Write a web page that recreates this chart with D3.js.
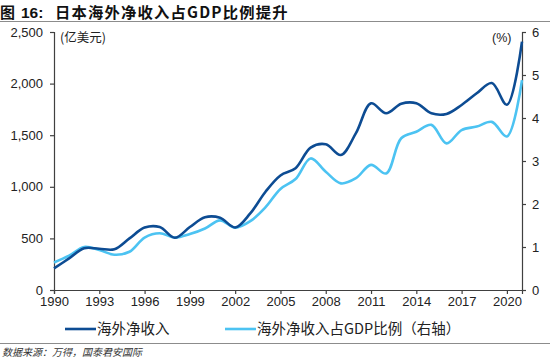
<!DOCTYPE html>
<html><head><meta charset="utf-8">
<script src="https://cdn.jsdelivr.net/npm/d3@7"></script>
<style>
body{margin:0;background:#fff;}
svg{display:block;font-family:"Liberation Sans",Arial,sans-serif;}
</style></head>
<body><svg id="c" width="550" height="360"></svg>
<script>
const years = d3.range(1990, 2022);
const netIncome = [210, 306, 405, 400, 395, 500, 605, 610, 506, 610, 705, 700, 606, 742, 950, 1110, 1180, 1380, 1412, 1308, 1520, 1809, 1712, 1805, 1810, 1712, 1706, 1793, 1906, 2005, 1795, 2406];
const sharePct = [0.64, 0.80, 1.00, 0.93, 0.82, 0.89, 1.22, 1.32, 1.22, 1.30, 1.43, 1.62, 1.45, 1.60, 1.92, 2.35, 2.58, 3.06, 2.75, 2.48, 2.60, 2.91, 2.71, 3.53, 3.68, 3.84, 3.41, 3.72, 3.80, 3.91, 3.57, 4.88];
const xTicks = [1990, 1993, 1996, 1999, 2002, 2005, 2008, 2011, 2014, 2017, 2020];
const leftTicks = [0, 500, 1000, 1500, 2000, 2500];
const rightTicks = [0, 1, 2, 3, 4, 5, 6];
const seriesNames = ["海外净收入", "海外净收入占GDP比例（右轴）"];
const colors = ["#0d4c93", "#4cc3f2"];

const svg = d3.select("#c");
const x = d3.scaleLinear().domain([1990, 2021]).range([54, 522]);
const yL = d3.scaleLinear().domain([0, 2500]).range([290, 32]);
const yR = d3.scaleLinear().domain([0, 6]).range([290, 32]);

// title
const cjk = "'Noto Sans CJK SC',sans-serif";
svg.append("text").attr("x", 0).attr("y", 17.5)
  .attr("font-family", cjk).attr("font-weight", "bold")
  .attr("font-size", 15).attr("fill", "#111").text("图");
svg.append("text").attr("x", 21).attr("y", 17.5)
  .attr("font-family", "'Liberation Sans',Arial,sans-serif").attr("font-weight", "bold")
  .attr("font-size", 15.5).attr("fill", "#111").text("16:");
svg.append("text").attr("x", 55).attr("y", 17.5)
  .attr("font-family", cjk).attr("font-weight", "bold").attr("letter-spacing", 1.2)
  .attr("font-size", 15.3).attr("fill", "#111").text("日本海外净收入占GDP比例提升");
svg.append("line").attr("x1", 0).attr("x2", 550).attr("y1", 21.5).attr("y2", 21.5)
  .attr("stroke", "#8c8c8c").attr("stroke-width", 1);

function styleAxis(g){
  g.select(".domain").attr("stroke", "#404040").attr("stroke-width", 1.2);
  g.selectAll(".tick line").attr("stroke", "#404040").attr("stroke-width", 1.2);
  g.selectAll(".tick text").attr("fill", "#222").attr("font-size", 13)
    .attr("font-family", "'Liberation Sans',Arial,sans-serif");
}
const gl = svg.append("g").attr("transform", "translate(54,0)")
  .call(d3.axisLeft(yL).tickValues(leftTicks).tickFormat(d3.format(",")).tickSizeOuter(0).tickSize(4).tickPadding(7));
styleAxis(gl);
const gr = svg.append("g").attr("transform", "translate(522,0)")
  .call(d3.axisRight(yR).tickValues(rightTicks).tickFormat(d3.format("d")).tickSizeOuter(0).tickSize(4).tickPadding(6));
styleAxis(gr);
const gb = svg.append("g").attr("transform", "translate(0,290)")
  .call(d3.axisBottom(x).tickValues(xTicks).tickFormat(d3.format("d")).tickSizeOuter(0).tickSize(4).tickPadding(3));
styleAxis(gb);

// units
svg.append("text").attr("x", 60).attr("y", 42).attr("font-size", 12.5).attr("fill", "#222")
  .attr("font-family", cjk).text("(亿美元)");
svg.append("text").attr("x", 492).attr("y", 42).attr("font-size", 12.5).attr("fill", "#222")
  .attr("font-family", "'Liberation Sans',Arial,sans-serif").text("(%)");

// lines
const lineL = d3.line().x((d,i)=>x(years[i])).y(d=>yL(d)).curve(d3.curveCatmullRom.alpha(0.5));
const lineR = d3.line().x((d,i)=>x(years[i])).y(d=>yR(d)).curve(d3.curveCatmullRom.alpha(0.5));
svg.append("path").datum(sharePct).attr("d", lineR).attr("fill", "none")
  .attr("stroke", colors[1]).attr("stroke-width", 2.6);
svg.append("path").datum(netIncome).attr("d", lineL).attr("fill", "none")
  .attr("stroke", colors[0]).attr("stroke-width", 2.6);

// legend
const leg = [{x1: 65, tx: 97}, {x1: 225, tx: 257}];
leg.forEach((l, i) => {
  svg.append("line").attr("x1", l.x1).attr("x2", l.x1 + 31).attr("y1", 329).attr("y2", 329)
    .attr("stroke", colors[i]).attr("stroke-width", 2.6);
  svg.append("text").attr("x", l.tx).attr("y", 334).attr("font-size", 14.5).attr("fill", "#222")
    .attr("font-family", cjk).text(seriesNames[i]);
});

svg.append("line").attr("x1", 0).attr("x2", 550).attr("y1", 343.5).attr("y2", 343.5)
  .attr("stroke", "#8c8c8c").attr("stroke-width", 1.2);
svg.append("text").attr("x", 2).attr("y", 356).attr("font-size", 10).attr("fill", "#333")
  .attr("font-style", "italic").attr("font-family", cjk)
  .text("数据来源：万得，国泰君安国际");
</script></body></html>
